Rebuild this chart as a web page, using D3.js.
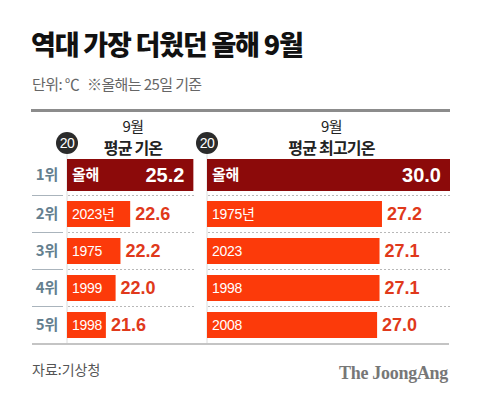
<!DOCTYPE html>
<html><head><meta charset="utf-8">
<script src="https://cdn.jsdelivr.net/npm/d3@7"></script>
<style>
body{margin:0;background:#fff;}
svg{display:block;font-family:"Liberation Sans","Noto Sans CJK KR",sans-serif;}
.kr{font-family:"Noto Sans CJK KR",sans-serif;}
</style></head>
<body><svg id="c" width="480" height="399"></svg>
<script>
const ranks = ["1위","2위","3위","4위","5위"];
const avgLabels = ["올해","2023년","1975","1999","1998"];
const avgValues = [25.2,22.6,22.2,22.0,21.6];
const maxLabels = ["올해","1975년","2023","1998","2008"];
const maxValues = [30.0,27.2,27.1,27.1,27.0];
const panelTitles = [["9월","평균 기온"],["9월","평균 최고기온"]];
const axisStart = 20;

const svg = d3.select("#c");
svg.append("text").attr("class","kr").attr("x",31).attr("y",55)
  .attr("font-size",27).attr("font-weight",900).attr("letter-spacing",-1.2)
  .attr("fill","#111").text("역대 가장 더웠던 올해 9월");
const sub = svg.append("text").attr("class","kr").attr("y",90)
  .attr("font-size",15).attr("fill","#666").attr("letter-spacing",-0.6);
sub.append("tspan").attr("x",32).text("단위: ℃");
sub.append("tspan").attr("x",87).text("※올해는 25일 기준");

// frame lines
svg.append("rect").attr("x",31).attr("y",109).attr("width",419).attr("height",3).attr("fill","#8c8c8c");
svg.append("rect").attr("x",32).attr("y",343).attr("width",417).attr("height",2).attr("fill","#c4c4c4");

const y = d3.scaleBand().domain(ranks).range([158.5,343.5]);
const step = y.step();

// rank labels and solid separators
ranks.forEach((r,i)=>{
  svg.append("text").attr("class","kr").attr("x",47).attr("y",y(r)+step/2 - (i===0?2:0))
    .attr("dy","0.36em").attr("text-anchor","middle").attr("font-size",15).attr("font-weight",700)
    .attr("fill","#64808f").text(r);
  if(i>0){
    svg.append("line").attr("x1",32).attr("x2",63).attr("y1",y(r)).attr("y2",y(r))
      .attr("stroke","#aab4bc").attr("stroke-width",1);
  }
});

function panel(x0, x1, labels, values, titles){
  const x = d3.scaleLinear().domain([axisStart, axisStart+10]).range([x0, x0+243]);
  const g = svg.append("g");
  // vertical axis line
  g.append("line").attr("x1",x0).attr("x2",x0).attr("y1",153).attr("y2",343)
    .attr("stroke","#dcdcdc").attr("stroke-width",1);
  // dotted separators
  ranks.forEach((r,i)=>{ if(i>0) g.append("line").attr("x1",x0+1).attr("x2",x1).attr("y1",y(r)).attr("y2",y(r))
      .attr("stroke","#b8b8b8").attr("stroke-width",1).attr("stroke-dasharray","2,2"); });
  // axis start circle
  g.append("circle").attr("cx",x0).attr("cy",143).attr("r",11).attr("fill","#2b2b2b");
  g.append("text").attr("x",x0).attr("y",143).attr("dy","0.36em").attr("text-anchor","middle")
    .attr("font-size",14).attr("fill","#fff").attr("letter-spacing",-0.5).text(axisStart);
  // header
  const cx = (x0 + x1)/2 + 2;
  g.append("text").attr("class","kr").attr("x",cx).attr("y",127).attr("dy","0.36em").attr("text-anchor","middle")
    .attr("font-size",15).attr("fill","#222").attr("letter-spacing",-0.5).text(titles[0]);
  g.append("text").attr("class","kr").attr("x",cx).attr("y",148).attr("dy","0.36em").attr("text-anchor","middle")
    .attr("font-size",16).attr("font-weight",700).attr("fill","#222").attr("letter-spacing",-0.8).text(titles[1]);
  // bars
  values.forEach((v,i)=>{
    const r = ranks[i];
    const first = i===0;
    const h = first ? 32 : 26;
    const cy = y(r)+step/2 - (first?2:0);
    const xe = x(v);
    g.append("rect").attr("x",x0).attr("y",cy-h/2).attr("width",xe-x0).attr("height",h)
      .attr("fill", first ? "#8c0a0a" : "#fc3a0a");
    g.append("text").attr("class", first?"kr":null).attr("x",x0+5).attr("y",cy).attr("dy","0.36em")
      .attr("font-size", first?15:14).attr("font-weight", first?700:400).attr("fill","#fff")
      .attr("letter-spacing",-0.3).text(labels[i]);
    if(first){
      g.append("text").attr("x",xe-9).attr("y",cy).attr("dy","0.36em").attr("text-anchor","end")
        .attr("font-size",20).attr("font-weight",700).attr("fill","#fff").text(v.toFixed(1));
    } else {
      g.append("text").attr("x",xe+5).attr("y",cy).attr("dy","0.36em")
        .attr("font-size",18).attr("font-weight",700).attr("fill","#e0391b").text(v.toFixed(1));
    }
  });
}
panel(67, 195, avgLabels, avgValues, panelTitles[0]);
panel(207, 452, maxLabels, maxValues, panelTitles[1]);

svg.append("text").attr("class","kr").attr("x",32).attr("y",375)
  .attr("font-size",14).attr("fill","#555").text("자료:기상청");
svg.append("text").attr("x",448).attr("y",379).attr("text-anchor","end")
  .attr("font-family","'Liberation Serif','DejaVu Serif',serif").attr("font-weight",700)
  .attr("font-size",18).attr("fill","#777").attr("letter-spacing",-0.3).text("The JoongAng");
</script></body></html>
